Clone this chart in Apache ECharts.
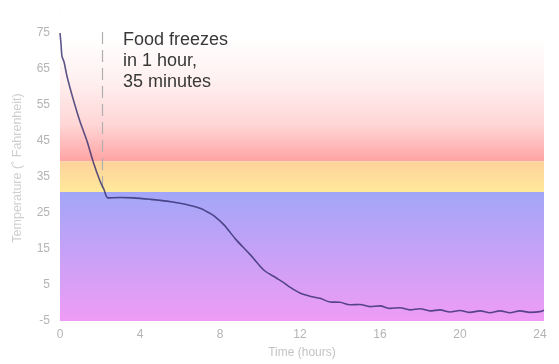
<!DOCTYPE html>
<html>
<head>
<meta charset="utf-8">
<script src="https://cdn.jsdelivr.net/npm/echarts/dist/echarts.min.js"></script>
<style>html,body{margin:0;padding:0;background:#fff;}#c{width:559px;height:364px;}</style>
</head>
<body>
<div id="c"></div>
<script>
const hours = [0, 0.05, 0.1, 0.2, 0.35, 0.65, 1.0, 1.35, 1.65, 2.0, 2.2, 2.4, 3.0, 3.65, 4.5, 5.35, 6.0, 6.5, 7.0, 7.4, 7.7, 8.2, 8.8, 9.5, 10.2, 10.8, 11.2, 11.5, 12.0, 12.5, 13.0, 13.5, 14.0, 14.5, 15.0, 15.5, 16.0, 16.5, 17.0, 17.5, 18.0, 18.5, 19.0, 19.5, 20.0, 20.5, 21.0, 21.5, 22.0, 22.5, 23.0, 23.5, 24.0, 24.2];
const temps = [75, 72, 68.5, 67, 63, 56.8, 50.4, 45, 39.4, 33.9, 31.5, 29.2, 29.3, 29.2, 28.8, 28.3, 27.7, 27.1, 26.3, 25.2, 24.2, 21.7, 17.6, 13.5, 9.1, 7.0, 5.6, 4.4, 2.8, 1.9, 1.3, 0.3, 0.2, -0.5, -0.4, -1.0, -0.8, -1.5, -1.3, -1.9, -1.6, -2.2, -1.9, -2.5, -2.1, -2.6, -2.2, -2.7, -2.2, -2.7, -2.2, -2.6, -2.4, -2.0];
const yTicks = [-5, 5, 15, 25, 35, 45, 55, 65, 75];
const xTicks = [0, 4, 8, 12, 16, 20, 24];
const bands = { freezeTop: 30.8, coolTop: 39.4, top: 80, bottom: -5 };
const freezeHour = 2.12;
const annotation = "Food freezes\nin 1 hour,\n35 minutes";

const chart = echarts.init(document.getElementById('c'), null, {renderer: 'canvas'});
const grad = (c) => new echarts.graphic.LinearGradient(0, 0, 0, 1, c);
const option = {
  animation: false,
  grid: {left: 60, right: 15, top: 15, bottom: 40},
  xAxis: {
    type: 'value', min: 0, max: 24.2, interval: 4,
    name: 'Time (hours)', nameLocation: 'middle', nameGap: 26,
    nameTextStyle: {color: '#c4c4c4', fontSize: 12, fontFamily: 'Liberation Sans'},
    axisLine: {show: false}, axisTick: {show: false}, splitLine: {show: false},
    axisLabel: {color: '#b4b4b4', fontSize: 12, margin: 8, fontFamily: 'Liberation Sans', showMaxLabel: false,
      formatter: v => xTicks.includes(v) ? String(v) : ''}
  },
  yAxis: {
    type: 'value', min: -5, max: 80, interval: 10,
    name: 'Temperature (˚ Fahrenheit)', nameLocation: 'middle', nameGap: 36,
    nameTextStyle: {color: '#cfcfcf', fontSize: 12.5, fontFamily: 'Liberation Sans'},
    axisLine: {show: true, lineStyle: {color: '#e2e2e2', width: 1}}, axisTick: {show: false}, splitLine: {show: false},
    axisLabel: {color: '#b4b4b4', fontSize: 12, margin: 10, fontFamily: 'Liberation Sans', showMaxLabel: false,
      formatter: v => yTicks.includes(v) ? String(v) : ''}
  },
  series: [{
    type: 'line', smooth: 0.3, symbol: 'none',
    data: hours.map((h, i) => [h, temps[i]]),
    lineStyle: {color: 'rgba(50,45,110,0.8)', width: 1.6},
    z: 5,
    markArea: {
      silent: true,
      data: [
        [{yAxis: bands.coolTop, itemStyle: {color: grad([{offset: 0, color: '#ffffff'}, {offset: 0.15, color: '#ffffff'}, {offset: 0.45, color: '#fff0f0'}, {offset: 0.75, color: '#ffd6d6'}, {offset: 1, color: '#ffa3a3'}])}}, {yAxis: bands.top}],
        [{yAxis: bands.freezeTop, itemStyle: {color: grad([{offset: 0, color: '#fdd29b'}, {offset: 1, color: '#ffe99b'}])}}, {yAxis: bands.coolTop}],
        [{yAxis: bands.bottom, itemStyle: {color: grad([{offset: 0, color: '#a2a6f8'}, {offset: 1, color: '#ef9cf5'}])}}, {yAxis: bands.freezeTop}]
      ]
    },
    markLine: {
      silent: true, symbol: 'none', label: {show: false},
      lineStyle: {color: '#b0b0b0', width: 1.2, type: [12, 6]},
      data: [[{coord: [freezeHour, 75.3]}, {coord: [freezeHour, 30.5]}]]
    }
  }],
  graphic: {
    elements: [{
      type: 'text', left: 123, top: 30, z: 100,
      style: {text: annotation, fill: '#383838', fontSize: 18, fontFamily: 'Liberation Sans', lineHeight: 21}
    }]
  }
};
chart.setOption(option);
</script>
</body>
</html>
